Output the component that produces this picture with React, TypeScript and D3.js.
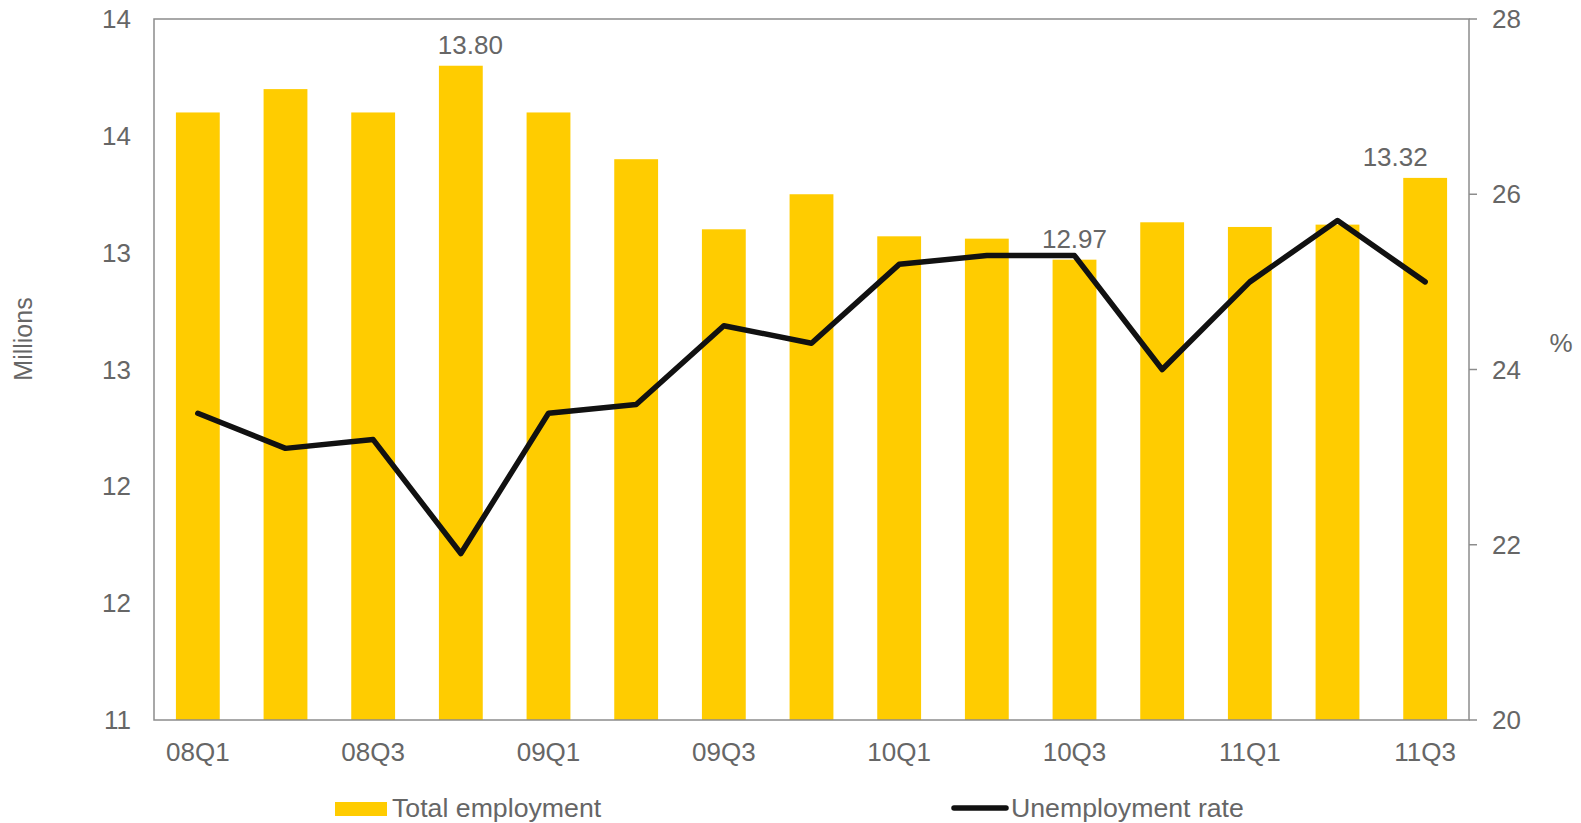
import React from "react";
import * as d3 from "d3";

const categories = ["08Q1","08Q2","08Q3","08Q4","09Q1","09Q2","09Q3","09Q4","10Q1","10Q2","10Q3","10Q4","11Q1","11Q2","11Q3"];
const employment = [13.6,13.7,13.6,13.8,13.6,13.4,13.1,13.25,13.07,13.06,12.97,13.13,13.11,13.12,13.32];
const unemployment = [23.5,23.1,23.2,21.9,23.5,23.6,24.5,24.3,25.2,25.3,25.3,24.0,25.0,25.7,25.0];
const leftTicks = [11,11.5,12,12.5,13,13.5,14];
const rightTicks = [20,22,24,26,28];
const labelled = ["08Q4","10Q3","11Q3"];
const labelShift: Record<string, number> = { "08Q4": 9.5, "10Q3": 0, "11Q3": -30 };

const W = 1581, H = 823;
const M = { left: 154, right: 1469, top: 19, bottom: 720 };
const FONT = "'Liberation Sans', Arial, sans-serif";
const TXT = "#666666";
const AX = "#8c8c8c";

export default function App() {
  const x = d3.scaleBand().domain(categories).range([M.left, M.right]).paddingInner(0.5).paddingOuter(0.25);
  const yL = d3.scaleLinear().domain([11, 14]).range([M.bottom, M.top]);
  const yR = d3.scaleLinear().domain([20, 28]).range([M.bottom, M.top]);
  const cx = (c: string) => (x(c) as number) + x.bandwidth() / 2;
  const line = d3.line<number>().x((_, i) => cx(categories[i])).y(d => yR(d));
  const fmtL = d3.format(".0f");

  return (
    <svg width={W} height={H} style={{ position: "fixed", left: 0, top: 0, background: "#fff" }} fontFamily={FONT}>
      {employment.map((v, i) => (
        <rect key={i} x={x(categories[i])} y={yL(v)} width={x.bandwidth()} height={yL(11) - yL(v)} fill="#FFCC00" />
      ))}
      <rect x={M.left} y={M.top} width={M.right - M.left} height={M.bottom - M.top} fill="none" stroke={AX} strokeWidth={1.5} />
      {rightTicks.map(t => (
        <g key={t}>
          <line x1={M.right} x2={M.right + 8} y1={yR(t)} y2={yR(t)} stroke={AX} strokeWidth={1.5} />
          <text x={M.right + 23} y={yR(t)} dy="0.35em" fontSize={26} fill={TXT}>{t}</text>
        </g>
      ))}
      {leftTicks.map(t => (
        <text key={t} x={131} y={yL(t)} dy="0.35em" fontSize={26} fill={TXT} textAnchor="end">{fmtL(t)}</text>
      ))}
      {categories.map((c, i) => i % 2 === 0 ? (
        <text key={c} x={cx(c)} y={761} fontSize={26} fill={TXT} textAnchor="middle">{c}</text>
      ) : null)}
      {categories.map((c, i) => labelled.includes(c) ? (
        <text key={"l" + c} x={cx(c) + labelShift[c]} y={yL(employment[i]) - 12} fontSize={26} fill={TXT} textAnchor="middle">{employment[i].toFixed(2)}</text>
      ) : null)}
      <path d={line(unemployment) || ""} fill="none" stroke="#111111" strokeWidth={5.5} strokeLinejoin="round" strokeLinecap="round" />
      <text transform={`translate(32,339) rotate(-90)`} textAnchor="middle" fontSize={25} fill={TXT}>Millions</text>
      <text x={1561} y={343} dy="0.35em" textAnchor="middle" fontSize={26} fill={TXT}>%</text>
      <rect x={335} y={802} width={52} height={14} fill="#FFCC00" />
      <text x={392} y={817} fontSize={26.7} fill={TXT}>Total employment</text>
      <line x1={954} x2={1006} y1={808} y2={808} stroke="#111111" strokeWidth={5.5} strokeLinecap="round" />
      <text x={1011} y={817} fontSize={26.7} fill={TXT}>Unemployment rate</text>
    </svg>
  );
}
